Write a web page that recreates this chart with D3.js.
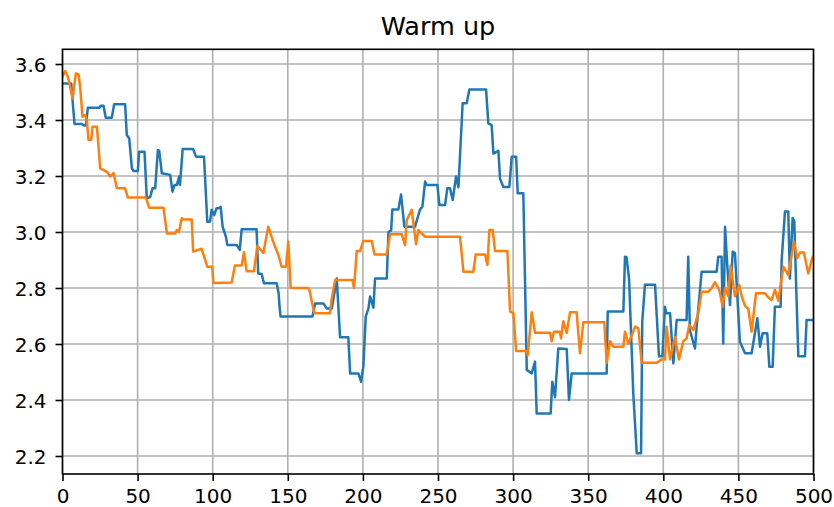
<!DOCTYPE html>
<html>
<head>
<meta charset="utf-8">
<script src="https://cdn.jsdelivr.net/npm/d3@7"></script>
<style>
  html, body { margin: 0; padding: 0; background: #ffffff; }
  svg { display: block; }
  text { font-family: "DejaVu Sans", sans-serif; fill: #000; }
</style>
</head>
<body>
<svg id="chart" width="834" height="507"></svg>
<script>
const chartTitle = "Warm up";
const xTicks = [0, 50, 100, 150, 200, 250, 300, 350, 400, 450, 500];
const yTicks = [2.2, 2.4, 2.6, 2.8, 3.0, 3.2, 3.4, 3.6];

// Blue series: [step index, value] vertices
const blueSeries = [
  [0,3.53],[5.8,3.53],[7,3.45],[8,3.386],[12.9,3.386],[14.5,3.38],[15.5,3.38],[16.9,3.444],[24.6,3.444],[25.5,3.451],[27.3,3.451],[28.8,3.408],[32.8,3.408],[34.4,3.456],[41.7,3.456],
  [42.8,3.346],[44.4,3.335],[46.2,3.227],[47.3,3.218],[50.2,3.218],[51,3.287],[54.6,3.287],[56.1,3.12],[58.4,3.125],[59.9,3.156],[61.7,3.156],[63.5,3.293],[64.4,3.29],[66.1,3.21],[71.7,3.204],[73.2,3.144],[74.6,3.168],[76.1,3.168],[77.7,3.198],[78.2,3.168],
  [80,3.296],[87,3.296],[88.9,3.269],[94.2,3.269],[96.4,3.037],[98.2,3.037],[99.3,3.079],[101,3.06],[102.6,3.085],[104,3.085],[105.3,3.09],[106.6,3.019],[108.8,2.983],[109.7,2.954],[115.9,2.954],[118,2.936],[119.3,3.01],[129.2,3.01],[130.3,2.852],[132.6,2.85],[134.1,2.817],[142.6,2.817],[143.9,2.781],[144.5,2.733],[145.2,2.698],[164.7,2.698],
  [166.4,2.698],[168.2,2.745],[173.7,2.745],[175.9,2.727],[179.3,2.727],[182.6,2.834],[184.8,2.624],[190.3,2.624],[191.5,2.495],[197,2.495],[198.8,2.465],[200.3,2.52],[201.9,2.698],[203.7,2.727],[204.8,2.77],[207,2.73],[208.1,2.834],[215.9,2.834],[217,3.0],[218.8,3.006],[219.6,3.08],[223.6,3.08],[225.4,3.134],[227.6,3.019],[234.7,3.019],[238,3.08],[239.6,3.09],[241.4,3.18],[242.5,3.168],[248,3.168],
  [249.6,3.168],[250.9,3.096],[254.7,3.096],[256.2,3.156],[258,3.156],[259.8,3.114],[262,3.198],[263.6,3.16],[266.4,3.46],[269.1,3.46],[270.9,3.509],[282,3.509],[283.5,3.388],[285.7,3.382],[286.9,3.28],[290.2,3.29],[291.3,3.19],[293.5,3.161],[297.5,3.161],[299.1,3.269],[302,3.269],[303.1,3.138],[306.8,3.138],[309.1,2.507],[312.4,2.495],[314.6,2.537],[315.7,2.352],[325,2.352],[326.1,2.465],[327.9,2.41],[330.1,2.584],
  [335.7,2.582],[337.2,2.4],[339,2.495],[362.3,2.495],[363,2.716],[373.4,2.716],[374.5,2.912],[375.5,2.91],[377.2,2.834],[380,2.424],[382.3,2.21],[385.2,2.21],[386,2.681],[387.8,2.812],[394.5,2.812],[397.1,2.556],[399.4,2.556],[401.1,2.733],[402,2.71],[404.5,2.71],[406.7,2.531],[408.9,2.686],
  [415.5,2.686],[416.6,2.912],[417.7,2.649],[421.1,2.584],[422.2,2.66],[425.5,2.858],[435.5,2.858],[436.6,2.912],[438.8,2.912],[439.9,2.602],[441.1,3.019],[442.6,2.88],[444.4,2.739],[446.2,2.93],[447.7,2.925],[449.3,2.77],[451,2.608],[454.4,2.567],[458.8,2.567],[462.6,2.692],[464.4,2.59],[466.1,2.638],[469.2,2.638],[470.6,2.519],[472.8,2.519],[474.3,2.733],[478.1,2.733],[478.8,2.9],[481,3.073],[483.2,3.073],[484.3,2.834],[486.1,3.05],[487.2,3.04],[488.3,2.834],[489.9,2.556],[494.3,2.556],[495.4,2.686],[500,2.686]
];

// Orange series: [step index, value] vertices
const orangeSeries = [
  [0,3.555],[1.8,3.575],[3.5,3.555],[4.4,3.537],[6.7,3.477],[8.9,3.566],[10.7,3.563],[11.8,3.515],[13.3,3.412],[15.1,3.418],[16.2,3.4],[17.3,3.329],[19.1,3.329],[20,3.376],[22.9,3.376],[25.1,3.227],[29.5,3.215],[31.7,3.198],[34,3.21],[36.2,3.156],[41.7,3.156],[43.5,3.123],[55.5,3.123],[57.7,3.087],[67.2,3.087],[69.5,2.995],[75,2.995],[76.1,3.007],[77.5,3.0],[79.4,3.049],
  [80.4,3.045],[86,3.045],[87,2.93],[92.6,2.94],[96.4,2.876],[99.7,2.876],[100.4,2.818],[112.6,2.82],[114.8,2.88],[119.3,2.88],[120.8,2.928],[122.6,2.86],[127.5,2.86],[129.7,2.95],[133.7,2.925],[137,3.019],[140.3,2.965],[143.7,2.918],[145.9,2.876],[148.8,2.876],[150.3,2.965],[151.9,2.80],[163.6,2.80],[164.7,2.787],
  [165.5,2.763],[167.7,2.71],[178.1,2.71],[179.3,2.763],[181.5,2.829],[193,2.829],[194.1,2.80],[195.9,2.932],[198.1,2.932],[200.3,2.968],[205.9,2.968],[207.7,2.92],[215.9,2.92],[218.1,2.992],[225.8,2.992],[228.1,2.953],[229.2,3.043],[232.5,3.079],[235.4,2.956],[236.9,3.007],[241.4,2.983],[264.7,2.983],
  [266.9,2.858],[273.5,2.858],[275.1,2.92],[281.3,2.92],[282.9,2.882],[284.2,3.007],[286.4,3.007],[288,2.932],[296.2,2.932],[298,2.716],[300.2,2.71],[302,2.575],[309.1,2.575],[309.7,2.56],[312.4,2.713],[314.6,2.64],[324.6,2.64],[325.7,2.61],[327.2,2.644],
  [331.2,2.644],[331.9,2.62],[333.4,2.681],[335.7,2.64],[337.9,2.713],[342.3,2.713],[344.5,2.567],[346.8,2.678],[360.7,2.678],[362.3,2.533],[364.5,2.61],[366.7,2.59],[373.4,2.59],[374.5,2.644],[376.7,2.6],[381.2,2.662],[383.4,2.656],[385.6,2.533],[395.6,2.533],[398.9,2.545],[401.1,2.545],[402.2,2.662],[404.5,2.545],[407.8,2.624],[410.4,2.545],
  [413.3,2.61],[415.5,2.62],[417.3,2.668],[420,2.65],[423.3,2.71],[425.5,2.787],[430,2.787],[432.2,2.8],[434.4,2.82],[437.3,2.793],[439.5,2.733],[441.1,2.8],[443.3,2.77],[444.8,2.88],[447.7,2.77],[450.6,2.811],[452.2,2.77],[454.4,2.736],[456.6,2.725],[458.8,2.644],[461.7,2.781],[467.7,2.781],[469.9,2.766],[472.1,2.757],[474.3,2.793],[476.6,2.754],[479.9,2.876],[483.2,2.846],[487,2.965],[489.2,2.906],[491,2.927],[493.6,2.927],[496.5,2.852],[499.4,2.912],[500,2.91]
];

const seriesList = [
  { name: "blue", data: blueSeries, color: "#1f77b4" },
  { name: "orange", data: orangeSeries, color: "#ff7f0e" }
];

const svg = d3.select("#chart");
const plot = { left: 62.5, right: 813.5, top: 49.3, bottom: 474 };

const x = d3.scaleLinear().domain([0, 500]).range([plot.left, plot.right]);
const y = d3.scaleLinear().domain([2.1357, 3.6525]).range([plot.bottom, plot.top]);

svg.append("rect").attr("x", 0).attr("y", 0).attr("width", 834).attr("height", 507).attr("fill", "#fff");

svg.append("defs").append("clipPath").attr("id", "clip")
  .append("rect")
  .attr("x", plot.left).attr("y", plot.top)
  .attr("width", plot.right - plot.left).attr("height", plot.bottom - plot.top);

// grid
const grid = svg.append("g").attr("class", "grid");
grid.selectAll("line.vx").data(xTicks).enter().append("line")
  .attr("x1", d => x(d)).attr("x2", d => x(d))
  .attr("y1", plot.top).attr("y2", plot.bottom)
  .attr("stroke", "#b0b0b0").attr("stroke-width", 1.6);
grid.selectAll("line.hy").data(yTicks).enter().append("line")
  .attr("x1", plot.left).attr("x2", plot.right)
  .attr("y1", d => y(d)).attr("y2", d => y(d))
  .attr("stroke", "#b0b0b0").attr("stroke-width", 1.6);

// lines
const line = d3.line().x(d => x(d[0])).y(d => y(d[1]));
svg.append("g").attr("clip-path", "url(#clip)")
  .selectAll("path").data(seriesList).enter().append("path")
  .attr("d", d => line(d.data))
  .attr("fill", "none")
  .attr("stroke", d => d.color)
  .attr("stroke-width", 2.5)
  .attr("stroke-linejoin", "round")
  .attr("stroke-linecap", "square");

// spines
svg.append("rect")
  .attr("x", plot.left).attr("y", plot.top)
  .attr("width", plot.right - plot.left).attr("height", plot.bottom - plot.top)
  .attr("fill", "none").attr("stroke", "#000").attr("stroke-width", 1.6);

// axes
const xAxis = d3.axisBottom(x).tickValues(xTicks).tickFormat(d3.format("d")).tickSize(7).tickPadding(7).tickSizeOuter(0);
const gx = svg.append("g").attr("transform", `translate(0,${plot.bottom})`).call(xAxis);
gx.select(".domain").remove();
gx.selectAll(".tick line").attr("stroke", "#000").attr("stroke-width", 1.6);
gx.selectAll(".tick text").attr("font-size", 20).attr("font-family", "DejaVu Sans").attr("fill", "#000").attr("dy", "0.74em");

const yAxis = d3.axisLeft(y).tickValues(yTicks).tickFormat(d3.format(".1f")).tickSize(7).tickPadding(9).tickSizeOuter(0);
const gy = svg.append("g").attr("transform", `translate(${plot.left},0)`).call(yAxis);
gy.select(".domain").remove();
gy.selectAll(".tick line").attr("stroke", "#000").attr("stroke-width", 1.6);
gy.selectAll(".tick text").attr("font-size", 20).attr("font-family", "DejaVu Sans").attr("fill", "#000").attr("dy", "0.36em");

// title
svg.append("text")
  .attr("x", (plot.left + plot.right) / 2)
  .attr("y", 35)
  .attr("text-anchor", "middle")
  .attr("font-size", 25.5)
  .attr("font-family", "DejaVu Sans")
  .text(chartTitle);
</script>
</body>
</html>
